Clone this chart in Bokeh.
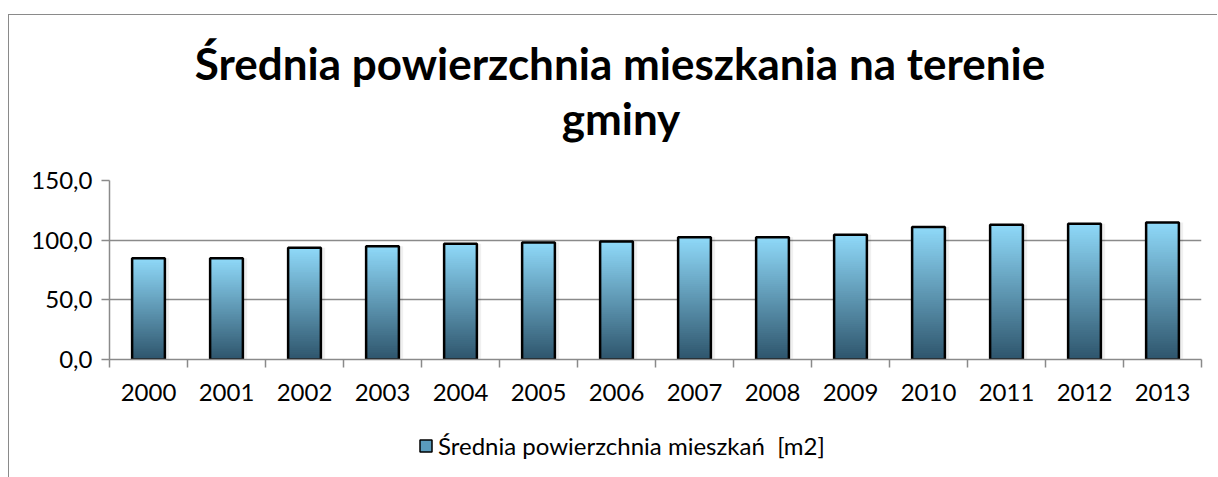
from bokeh.plotting import figure
from bokeh.layouts import column
from bokeh.models import (ColumnDataSource, Range1d, FixedTicker, Legend,
                          LegendItem, Label)
from bokeh.embed import file_html
from bokeh.resources import INLINE

years = ["2000", "2001", "2002", "2003", "2004", "2005", "2006",
         "2007", "2008", "2009", "2010", "2011", "2012", "2013"]
values = [84.8, 84.8, 93.6, 94.9, 97.0, 98.1, 98.9,
          102.5, 102.5, 104.5, 111.0, 113.0, 113.8, 114.7]
y_ticks = [0, 50, 100, 150]
y_labels = ["0,0", "50,0", "100,0", "150,0"]
title_line1 = "Średnia powierzchnia mieszkania na terenie"
title_line2 = "gminy"
series_name = "Średnia powierzchnia mieszkań  [m2]"

FONT = "Lato"
GRAY = "#8a8a8a"
TOP_C = (0x8f, 0xd9, 0xf9)
BOT_C = (0x2e, 0x55, 0x6c)
W = 1208

xs = list(range(len(years)))


def bare(height, x_range):
    f = figure(width=W, height=height, output_backend="svg", toolbar_location=None,
               x_axis_location=None, y_axis_location=None,
               x_range=x_range, y_range=Range1d(0, 150),
               min_border=0, min_border_left=0, min_border_right=0,
               min_border_top=0, min_border_bottom=0)
    f.outline_line_color = None
    f.grid.visible = False
    f.border_fill_color = "white"
    f.background_fill_color = "white"
    return f


# ---- title area
p0 = bare(150, Range1d(0, 1))
for txt, xx, yy in ((title_line1, 510.5, 103), (title_line2, 511.5, 48)):
    p0.add_layout(Label(x=xx, y=yy, x_units="screen", y_units="screen", text=txt,
                        text_font=FONT, text_font_size="44px", text_font_style="bold",
                        text_color="black", text_align="center",
                        text_baseline="alphabetic"))

# ---- main chart
p = figure(width=W, height=250, output_backend="svg", toolbar_location=None,
           x_range=Range1d(-0.5, len(years) - 0.5), y_range=Range1d(0, 150),
           min_border_left=100, min_border_right=16, min_border_top=15,
           min_border_bottom=56)
p.outline_line_color = None
p.background_fill_color = "white"
p.border_fill_color = "white"

# soft shadow
p.vbar(x=[x + 0.03 for x in xs], top=values, bottom=0, width=0.47,
       fill_color="black", fill_alpha=0.06, line_color=None)

# gradient bars built from slices of each value
N = 60
sx, sb, st, sc = [], [], [], []
for x, v in zip(xs, values):
    for k in range(N):
        f = (k + 0.5) / N
        c = tuple(int(round(BOT_C[j] + (TOP_C[j] - BOT_C[j]) * f)) for j in range(3))
        sx.append(x)
        sb.append(v * k / N)
        st.append(min(v, v * (k + 1.8) / N))
        sc.append("#%02x%02x%02x" % c)
p.vbar(x="x", bottom="b", top="t", width=0.42, fill_color="c", line_color=None,
       source=ColumnDataSource(dict(x=sx, b=sb, t=st, c=sc)))
p.vbar(x=xs, top=values, bottom=0, width=0.42, fill_color=None,
       line_color="black", line_width=2.5)

p.xaxis.ticker = FixedTicker(ticks=xs, minor_ticks=[x - 0.5 for x in range(len(years) + 1)])
p.xaxis.major_label_overrides = {x: y for x, y in zip(xs, years)}
p.xaxis.major_tick_line_color = None
p.xaxis.minor_tick_out = 8
p.xaxis.minor_tick_in = 0
p.xaxis.minor_tick_line_color = GRAY
p.xaxis.minor_tick_line_width = 1.5
p.xaxis.major_label_standoff = 16

p.yaxis.ticker = FixedTicker(ticks=y_ticks, minor_ticks=[])
p.yaxis.major_label_overrides = {t: l for t, l in zip(y_ticks, y_labels)}
p.yaxis.major_tick_out = 8
p.yaxis.major_tick_in = 0
p.yaxis.major_tick_line_color = GRAY
p.yaxis.major_tick_line_width = 1.5
p.yaxis.major_label_standoff = 9

for ax in (p.xaxis[0], p.yaxis[0]):
    ax.axis_line_color = GRAY
    ax.axis_line_width = 1.5
    ax.major_label_text_font = FONT
    ax.major_label_text_font_size = "24px"
    ax.major_label_text_color = "black"

p.xgrid.visible = False
p.ygrid.grid_line_color = GRAY
p.ygrid.grid_line_width = 1.5

# ---- legend area (proxy renderer is hidden; only its legend key is drawn)
p2 = bare(62, Range1d(2, 3))
proxy = p2.vbar(x=xs[:1], top=values[:1], width=0.5, fill_color="#5a9cbd",
                line_color="black", line_width=1.5)
proxy.visible = False
legend = Legend(items=[LegendItem(label=series_name, renderers=[proxy])],
                location=(309, 17), orientation="horizontal",
                label_text_font=FONT, label_text_font_size="24px",
                label_text_color="black", glyph_width=15, glyph_height=15,
                label_standoff=5, border_line_color=None,
                background_fill_alpha=0, padding=0, margin=0,
                inactive_fill_alpha=0)
p2.add_layout(legend, "center")

lay = column(p0, p, p2, spacing=0)
lay.styles = {"border-top": "1.5px solid #8a8a8a", "border-left": "1.5px solid #8a8a8a",
              "margin-top": "13.5px", "margin-left": "8px"}

open("out.html", "w").write(file_html(lay, INLINE))
